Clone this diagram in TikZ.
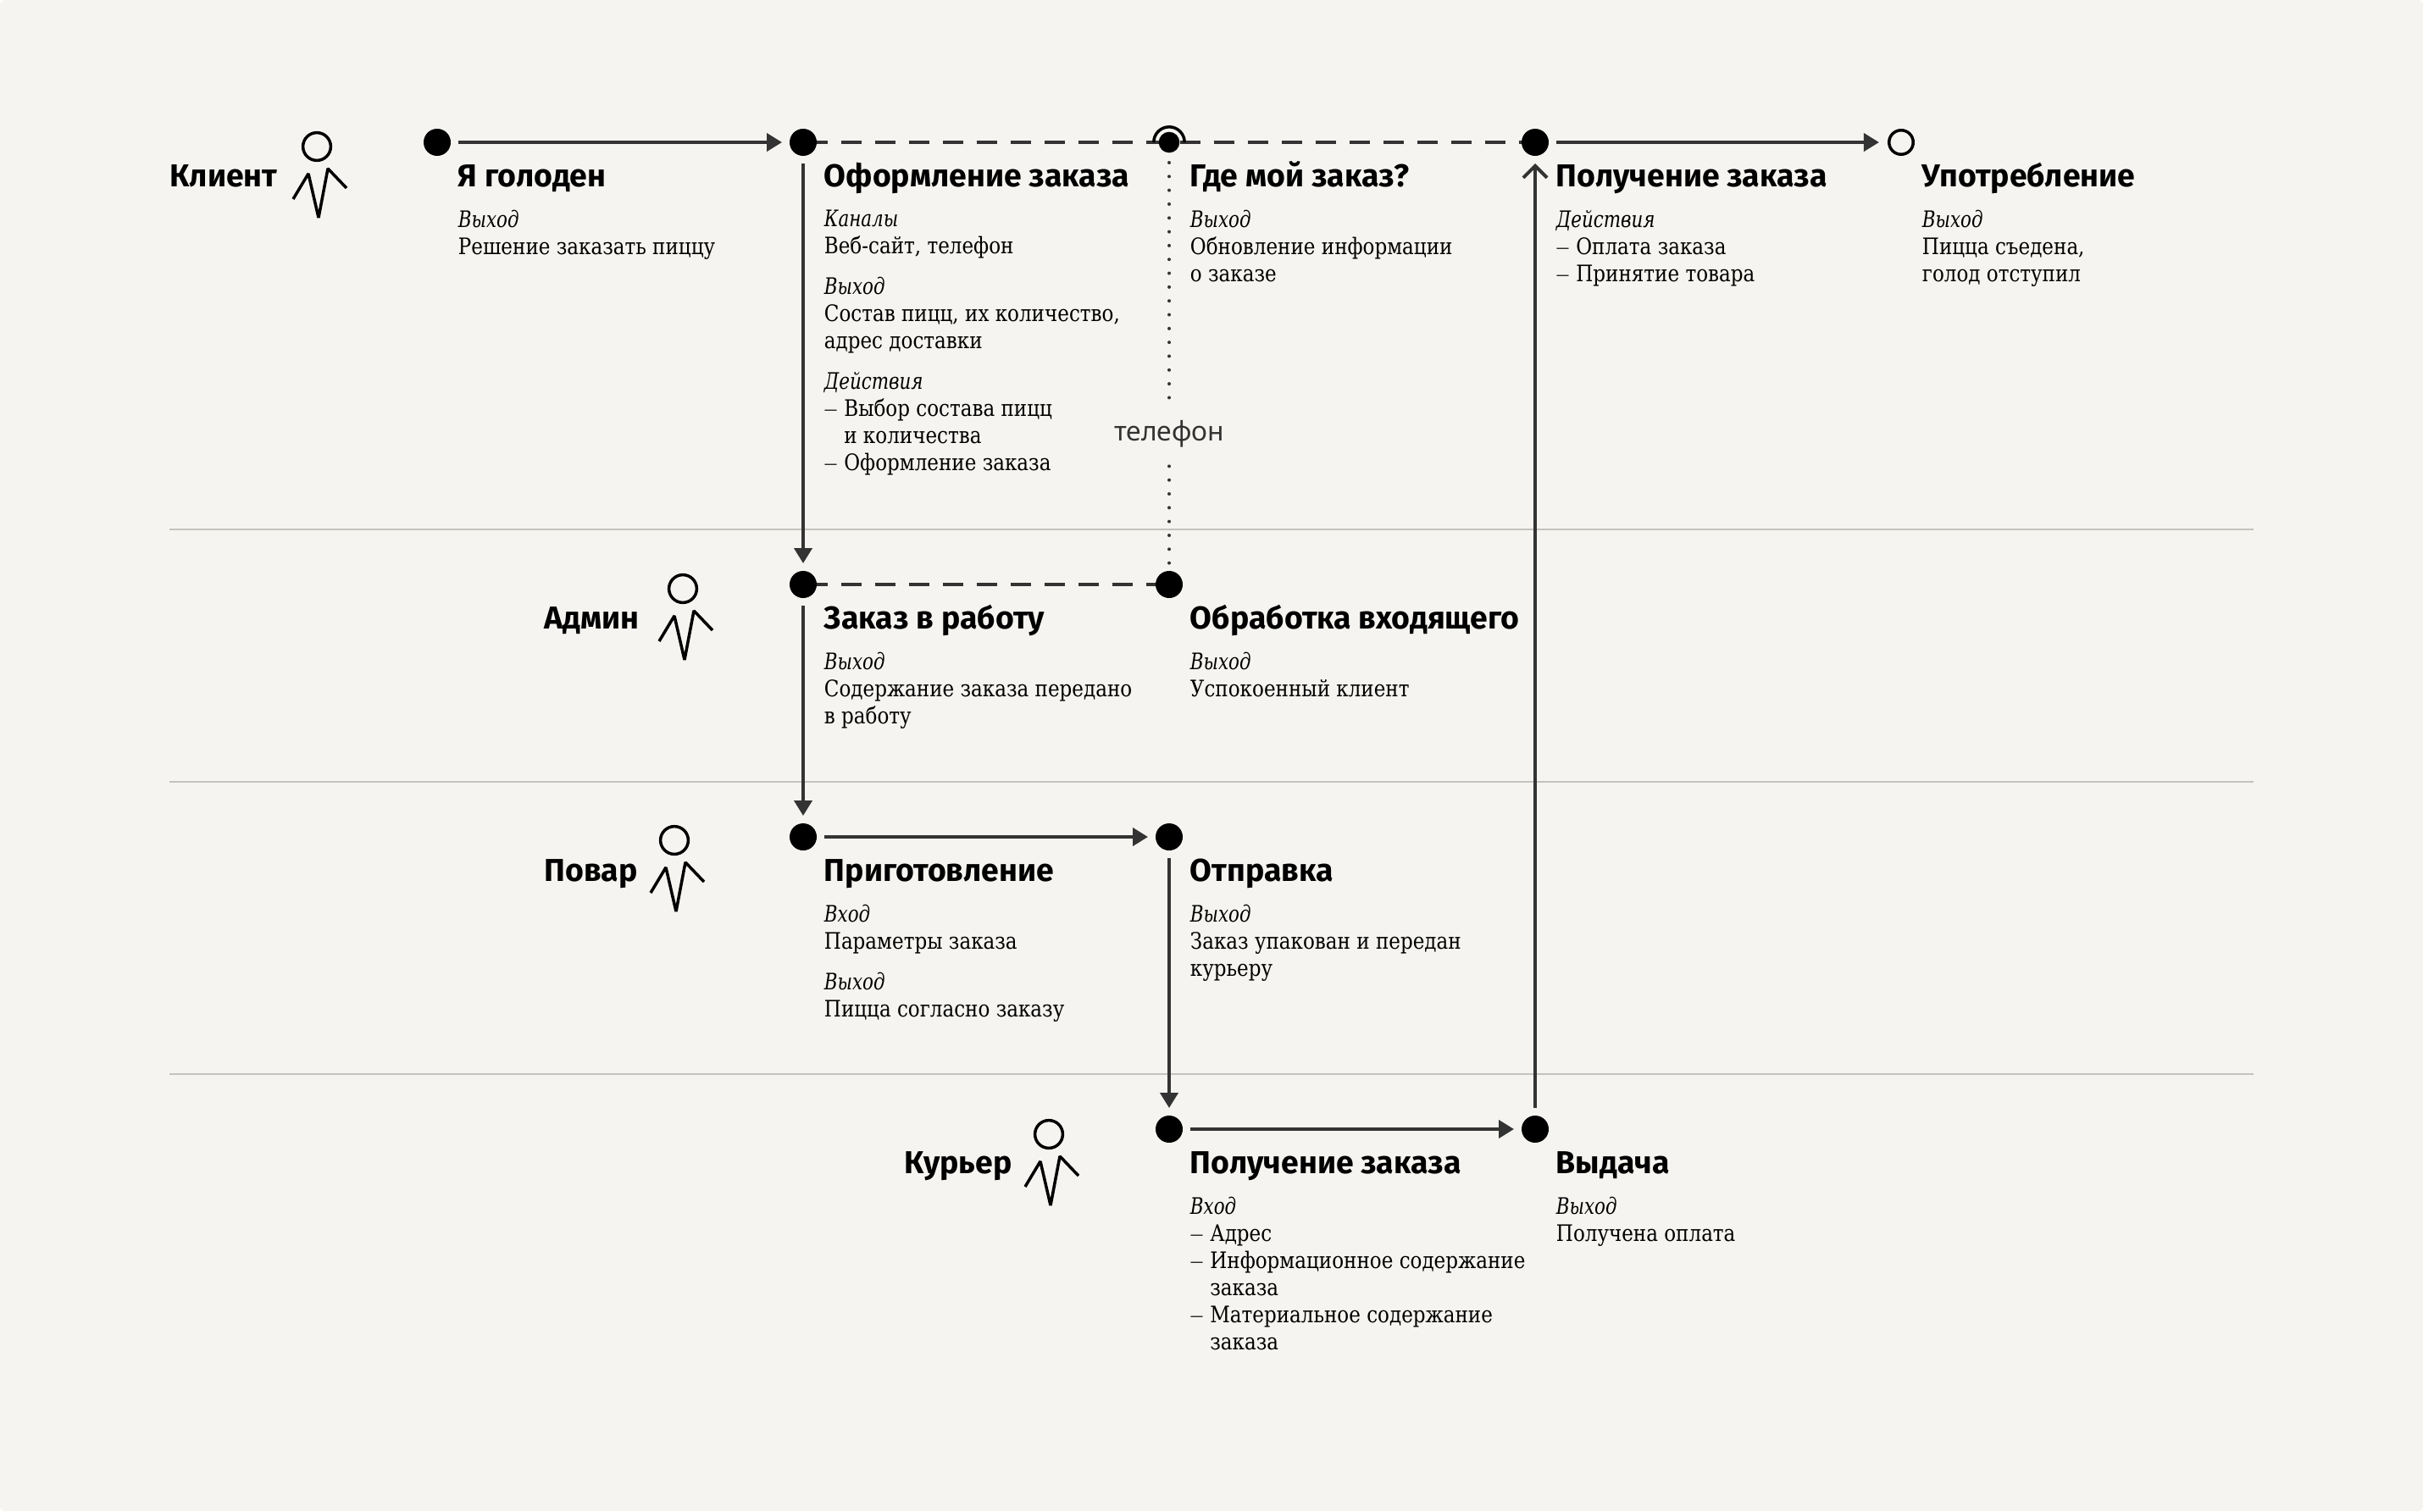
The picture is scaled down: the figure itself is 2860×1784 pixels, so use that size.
\documentclass[tikz,border=0pt]{standalone}
\usepackage{fontspec}
\setmainfont{DejaVu Serif}[FakeStretch=0.86,ItalicFeatures={FakeStretch=0.8}]
\newfontfamily\titlefont{Fira Sans}
\newfontfamily\phonefont{Noto Sans}
\usetikzlibrary{arrows.meta,backgrounds}
\definecolor{paper}{HTML}{F5F4F0}
\definecolor{ink}{HTML}{333333}
\definecolor{rulegray}{HTML}{C4C3BE}
\newcommand{\lineitem}{\makebox[11.7pt][l]{\raisebox{1.2pt}{\fontsize{9}{8}\selectfont —}}}
\newcommand{\hang}{\hspace*{11.7pt}}
\tikzset{
  dot/.style={circle,fill=black,inner sep=0pt,minimum size=32*0.5pt,outer sep=4.5pt},
  smalldot/.style={circle,fill=black,inner sep=0pt,minimum size=24.6*0.5pt,outer sep=5.85pt},
  enddot/.style={circle,draw=black,line width=1.75pt,fill=paper,inner sep=0pt,minimum size=28.5*0.5pt,outer sep=5.9pt},
  flow/.style={ink,line width=2pt,-{Triangle[length=9pt,width=10.5pt]}},
  backflow/.style={ink,line width=2pt,-{Straight Barb[length=7pt,width=14pt]}},
  dashline/.style={ink,line width=2pt,dash pattern=on 12pt off 8pt,dash phase=17.75pt,line cap=butt},
  dotline/.style={ink,line width=2pt,line cap=round,dash pattern=on 0pt off 8.16pt},
  stagetitle/.style={anchor=base west,inner sep=0pt,font=\titlefont\bfseries\fontsize{18.7}{20}\selectfont,xshift=12.25pt,yshift=-26pt},
  actorname/.style={anchor=base west,inner sep=0pt,font=\titlefont\bfseries\fontsize{18.7}{20}\selectfont},
  stagebody/.style={anchor=north west,inner sep=0pt,align=left,font=\fontsize{13.4}{16}\selectfont,xshift=12.25pt,yshift=-40pt,execute at begin node=\strut},
  person/.pic={
    \draw[black,line width=1.75pt,line join=bevel] (0,0) circle[radius=8.2pt];
    \draw[black,line width=1.75pt,line join=bevel] (-28,62)--(-10,32)--(2,84)--(13,26)--(35,49);
  }
}
\begin{document}
\begin{tikzpicture}[x=0.5pt,y=-0.5pt]
\useasboundingbox (0,0) rectangle (2860,1784);
% stage dots
\node[dot] (dotHungry) at (516,168) {};
\node[dot] (dotOrder) at (948,168) {};
\node[smalldot] (dotWhere) at (1380,168) {};
\node[dot] (dotGet) at (1812,168) {};
\node[enddot] (dotEat) at (2244,168) {};
\node[dot] (dotWork) at (948,690) {};
\node[dot] (dotIncoming) at (1380,690) {};
\node[dot] (dotCook) at (948,988) {};
\node[dot] (dotSend) at (1380,988) {};
\node[dot] (dotPickup) at (1380,1333) {};
\node[dot] (dotHand) at (1812,1333) {};
\node[ink,inner sep=0pt,minimum height=40pt,text height=14.5pt,text depth=3.8pt,font=\phonefont\fontsize{15.9}{20}\selectfont] (phone) at (1380,510) {телефон};
% connectors
\draw[flow] (dotHungry)--(dotOrder);
\draw[flow] (dotGet)--(dotEat);
\draw[flow] (dotOrder)--(dotWork);
\draw[flow] (dotWork)--(dotCook);
\draw[flow] (dotCook)--(dotSend);
\draw[flow] (dotSend)--(dotPickup);
\draw[flow] (dotPickup)--(dotHand);
\draw[backflow] (dotHand)--(dotGet);
\draw[dotline] (dotWhere)--(phone);
\draw[dotline] (phone)--(dotIncoming);
\begin{scope}[on background layer]
\fill[paper,rounded corners=3pt] (0,0) rectangle (2860,1784);
\foreach \ruleY in {625,923,1268}
  \draw[rulegray,line width=1pt] (200,\ruleY)--(2660,\ruleY);
\draw[dashline] (dotOrder.center)--(dotGet.center);
\draw[dashline] (dotWork.center)--(dotIncoming.center);
\end{scope}
\draw[black,line width=1.75pt] (dotWhere.center) ++(-18.2,0) arc[start angle=180,end angle=0,radius=9.1pt];
% actors
\node[actorname] (actorClient) at (200,220) {Клиент};
\pic at (374,173) {person};
\node[actorname] (actorAdmin) at (642,742) {Админ};
\pic at (806,695) {person};
\node[actorname] (actorCook) at (642,1040) {Повар};
\pic at (796,992) {person};
\node[actorname] (actorCourier) at (1067,1385) {Курьер};
\pic at (1238,1339) {person};
% stage texts
\node[stagetitle] (titleHungry) at (dotHungry) {Я голоден};
\node[stagebody] (bodyHungry) at (dotHungry) {\textit{Выход}\\Решение заказать пиццу};
\node[stagetitle] (titleOrder) at (dotOrder) {Оформление заказа};
\node[stagebody] (bodyOrder) at (dotOrder) {\textit{Каналы}\\Веб-сайт, телефон\\[8pt]\textit{Выход}\\Состав пицц, их количество,\\адрес доставки\\[8pt]\textit{Действия}\\\lineitem Выбор состава пицц\\\hang и количества\\\lineitem Оформление заказа};
\node[stagetitle] (titleWhere) at (dotWhere) {Где мой заказ?};
\node[stagebody] (bodyWhere) at (dotWhere) {\textit{Выход}\\Обновление информации\\о заказе};
\node[stagetitle] (titleGet) at (dotGet) {Получение заказа};
\node[stagebody] (bodyGet) at (dotGet) {\textit{Действия}\\\lineitem Оплата заказа\\\lineitem Принятие товара};
\node[stagetitle] (titleEat) at (dotEat) {Употребление};
\node[stagebody] (bodyEat) at (dotEat) {\textit{Выход}\\Пицца съедена,\\голод отступил};
\node[stagetitle] (titleWork) at (dotWork) {Заказ в работу};
\node[stagebody] (bodyWork) at (dotWork) {\textit{Выход}\\Содержание заказа передано\\в работу};
\node[stagetitle] (titleIncoming) at (dotIncoming) {Обработка входящего};
\node[stagebody] (bodyIncoming) at (dotIncoming) {\textit{Выход}\\Успокоенный клиент};
\node[stagetitle] (titleCook) at (dotCook) {Приготовление};
\node[stagebody] (bodyCook) at (dotCook) {\textit{Вход}\\Параметры заказа\\[8pt]\textit{Выход}\\Пицца согласно заказу};
\node[stagetitle] (titleSend) at (dotSend) {Отправка};
\node[stagebody] (bodySend) at (dotSend) {\textit{Выход}\\Заказ упакован и передан\\курьеру};
\node[stagetitle] (titlePickup) at (dotPickup) {Получение заказа};
\node[stagebody] (bodyPickup) at (dotPickup) {\textit{Вход}\\\lineitem Адрес\\\lineitem Информационное содержание\\\hang заказа\\\lineitem Материальное содержание\\\hang заказа};
\node[stagetitle] (titleHand) at (dotHand) {Выдача};
\node[stagebody] (bodyHand) at (dotHand) {\textit{Выход}\\Получена оплата};
\end{tikzpicture}
\end{document}
